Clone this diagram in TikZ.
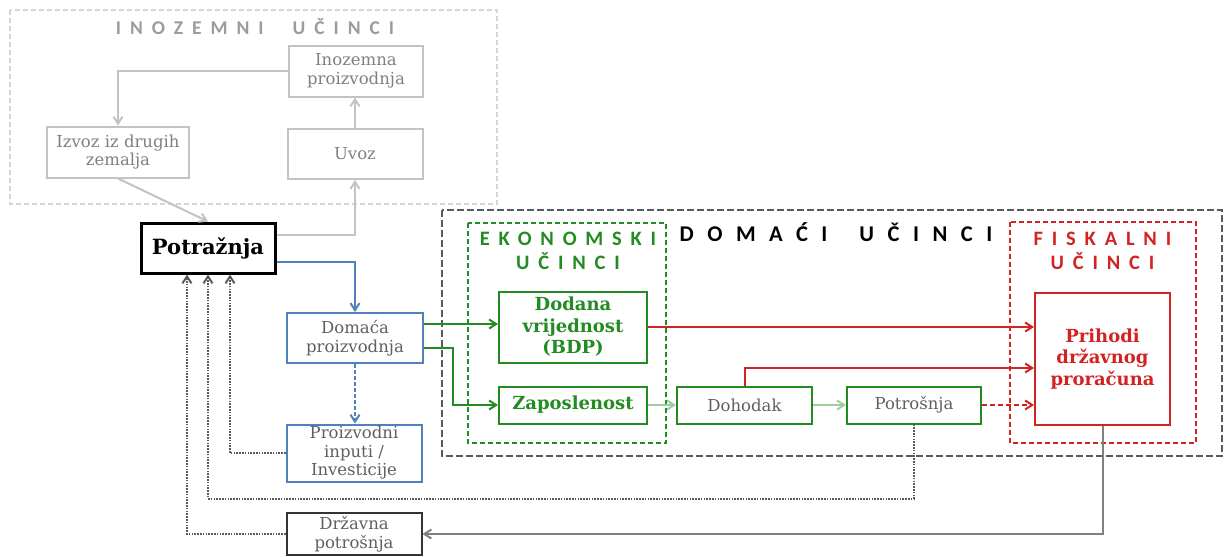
\documentclass[tikz,border=0pt]{standalone}
\usepackage{fontspec}
\setmainfont{DejaVu Serif}
\newfontfamily\titlefont{Carlito}
\usetikzlibrary{arrows.meta}
\definecolor{effblue}{RGB}{79,129,189}
\definecolor{effgreen}{RGB}{34,139,34}
\definecolor{effred}{RGB}{210,35,35}
\definecolor{efflightgreen}{RGB}{160,205,160}
\definecolor{boxgray}{RGB}{195,195,195}
\definecolor{textgray}{RGB}{95,95,95}
\definecolor{framegray}{RGB}{90,90,90}

\begin{document}
\begin{tikzpicture}[x=1pt, y=-1pt,
    tip/.style={-{Straight Barb[length=7pt,width=9pt]}, line width=2pt},
    flowbox/.style={draw, line width=2pt, align=center, inner sep=1pt,
        text=textgray, font=\fontsize{16.5}{18.5}\selectfont},
    effbox/.style={flowbox, draw=effgreen, text=effgreen,
        font=\fontsize{18}{21.5}\selectfont\bfseries},
    frame/.style={line width=1.8pt, dash pattern=on 5pt off 3pt},
    grouptitle/.style={align=center,
        font=\titlefont\bfseries\fontsize{20.5}{24}\selectfont\addfontfeature{LetterSpace=43}},
    dotline/.style={tip, line width=2pt, framegray, dash pattern=on 1.6pt off 1.2pt}]
    \useasboundingbox (0,0) rectangle (1224,557);

    % Group frames
    \draw[frame, boxgray!70] (10,10) rectangle (497,204);
    \draw[frame, framegray, line width=2.8pt, dash pattern=on 7pt off 3pt] (442,210) rectangle (1222,456);
    \draw[frame, effgreen] (468,223) rectangle (666,443);
    \draw[frame, effred] (1010,222) rectangle (1196,443);

    % Group titles
    \node[grouptitle, text=boxgray!80!black,
        font=\titlefont\bfseries\fontsize{19.5}{22}\selectfont\addfontfeature{LetterSpace=46}] (inotitle) at (255,27) {INOZEMNI\hspace{29pt}UČINCI};
    \node[grouptitle, text=black,
        font=\titlefont\bfseries\fontsize{22.5}{26}\selectfont\addfontfeature{LetterSpace=60}] (domtitle) at (836,232) {DOMAĆI\hspace{32pt}UČINCI};
    \node[grouptitle, text=effgreen] (ekotitle) at (568,251) {EKONOMSKI\\UČINCI};
    \node[grouptitle, text=effred] (fistitle) at (1102.5,251) {FISKALNI\\UČINCI};

    % Foreign effects
    \node[flowbox, draw=boxgray, text=textgray!80, minimum width=134pt, minimum height=51pt] (inozemna) at (356,71) {Inozemna\\proizvodnja};
    \node[flowbox, draw=boxgray, text=textgray!80, minimum width=142pt, minimum height=51pt] (izvoz) at (118,152) {Izvoz iz drugih\\zemalja};
    \node[flowbox, draw=boxgray, text=textgray!80, minimum width=135pt, minimum height=50pt] (uvoz) at (355,154) {Uvoz};

    % Demand and domestic production
    \node[flowbox, draw=black, text=black, line width=3pt, minimum width=134pt, minimum height=50pt,
        font=\fontsize{21}{24}\selectfont\bfseries] (potraznja) at (208,248) {Potražnja};
    \node[flowbox, draw=effblue, minimum width=136pt, minimum height=50pt] (domaca) at (355,338) {Domaća\\proizvodnja};
    \node[flowbox, draw=effblue, minimum width=135pt, minimum height=57pt] (inputi) at (354,453) {Proizvodni\\inputi /\\Investicije};
    \node[flowbox, draw=black!80, minimum width=135pt, minimum height=42pt] (drzavna) at (354,534) {Državna\\potrošnja};

    % Economic and fiscal effects
    \node[effbox, minimum width=148pt, minimum height=71pt] (dodana) at (573,327) {Dodana\\vrijednost\\(BDP)};
    \node[effbox, minimum width=148pt, minimum height=37pt] (zaposlenost) at (573,405) {Zaposlenost};
    \node[flowbox, draw=effgreen, minimum width=135pt, minimum height=37pt] (dohodak) at (744.5,405) {Dohodak};
    \node[flowbox, draw=effgreen, minimum width=134pt, minimum height=37pt] (potrosnja) at (914,405) {Potrošnja};
    \node[effbox, draw=effred, text=effred, minimum width=135pt, minimum height=132pt] (prihodi) at (1102.5,359) {Prihodi\\državnog\\proračuna};

    % Foreign loop
    \draw[tip, boxgray] (inozemna.west) -| (izvoz.north);
    \draw[tip, boxgray] (uvoz.north) -- (inozemna.south -| uvoz.north);
    \draw[tip, boxgray] (izvoz.south) -- (potraznja.north);
    \draw[tip, boxgray] ([yshift=13pt]potraznja.east) -| (uvoz.south);

    % Domestic production
    \draw[tip, effblue] ([yshift=-14pt]potraznja.east) -| (domaca.north);
    \draw[tip, effblue, dash pattern=on 4pt off 2pt] (domaca.south) -- (inputi.north -| domaca.south);
    \draw[tip, effgreen] ([yshift=14pt]domaca.east) -- ([yshift=14pt]domaca.east -| dodana.west);
    \draw[tip, effgreen] ([yshift=-10pt]domaca.east) -- ++(29,0) |- (zaposlenost.west);
    \draw[tip, efflightgreen] (zaposlenost.east) -- (dohodak.west);
    \draw[tip, efflightgreen] (dohodak.east) -- (potrosnja.west);

    % Fiscal effects
    \draw[tip, effred] (dodana.east) -- (dodana.east -| prihodi.west);
    \draw[tip, effred] (dohodak.north) |- ([yshift=-9pt]prihodi.west);
    \draw[tip, effred, dash pattern=on 5pt off 3pt] (potrosnja.east) -- (potrosnja.east -| prihodi.west);
    \draw[tip, gray] (prihodi.south) |- (drzavna.east);

    % Feedback into demand
    \draw[dotline] (inputi.west) -| ([xshift=22pt]potraznja.south);
    \draw[dotline] (potrosnja.south) -- ++(0,74) -| (potraznja.south);
    \draw[dotline] (drzavna.west) -| ([xshift=-21pt]potraznja.south);
\end{tikzpicture}
\end{document}
